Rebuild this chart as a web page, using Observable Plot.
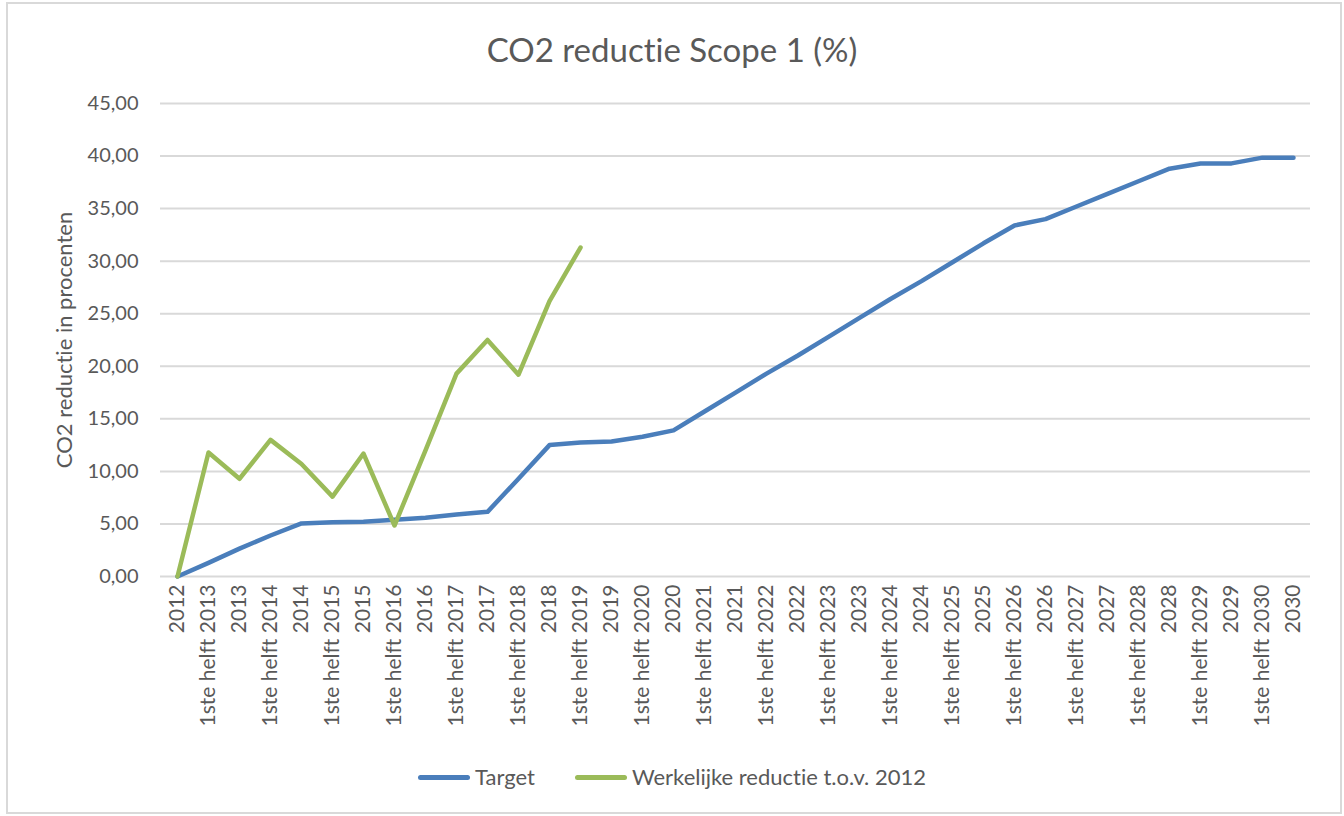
<!DOCTYPE html>
<html>
<head>
<meta charset="utf-8">
<script src="https://cdn.jsdelivr.net/npm/d3@7"></script>
<script src="https://cdn.jsdelivr.net/npm/@observablehq/plot@0.6"></script>
<style>
  html, body { margin: 0; padding: 0; background: #fff; }
  body { width: 1344px; height: 816px; position: relative; overflow: hidden; font-family: Lato, "Open Sans", sans-serif; color: #595959; }
  body, body *, svg text { font-variant-ligatures: none !important; font-feature-settings: "liga" 0, "clig" 0, "dlig" 0, "calt" 0 !important; text-rendering: optimizeSpeed; }
  #frame { position: absolute; left: 6px; top: 2px; width: 1332px; height: 808px; border: 2px solid #d9d9d9; box-sizing: content-box; }
  #title { position: absolute; left: 0; top: 29px; width: 1344px; text-align: center; font-size: 33px; line-height: 40px; color: #595959; }
  #chart { position: absolute; left: 0; top: 90px; }
  #legend { position: absolute; left: 0; top: 763px; width: 1344px; display: flex; justify-content: center; font-size: 22px; line-height: 28px; color: #595959; }
  .item { display: flex; align-items: center; margin: 0 20px; }
  .swatch { width: 52px; height: 5px; border-radius: 3px; margin-right: 5px; }
</style>
</head>
<body>
<div id="frame"></div>
<div id="title">CO2 reductie Scope 1 (%)</div>
<div id="chart"></div>
<div id="legend"></div>
<script>
const categories = [
  "2012",
  "1ste helft 2013", "2013",
  "1ste helft 2014", "2014",
  "1ste helft 2015", "2015",
  "1ste helft 2016", "2016",
  "1ste helft 2017", "2017",
  "1ste helft 2018", "2018",
  "1ste helft 2019", "2019",
  "1ste helft 2020", "2020",
  "1ste helft 2021", "2021",
  "1ste helft 2022", "2022",
  "1ste helft 2023", "2023",
  "1ste helft 2024", "2024",
  "1ste helft 2025", "2025",
  "1ste helft 2026", "2026",
  "1ste helft 2027", "2027",
  "1ste helft 2028", "2028",
  "1ste helft 2029", "2029",
  "1ste helft 2030", "2030"
];
const targetValues = [
  0.0,
  1.3, 2.65,
  3.9, 5.05,
  5.15, 5.2,
  5.4, 5.6,
  5.9, 6.15,
  9.3, 12.5,
  12.75, 12.85,
  13.3, 13.9,
  15.7, 17.5,
  19.3, 21.0,
  22.8, 24.6,
  26.4, 28.1,
  29.9, 31.7,
  33.4, 34.0,
  35.2, 36.4,
  37.6, 38.8,
  39.3, 39.3,
  39.85, 39.85
];
const actualValues = [
  0.0,
  11.8, 9.3,
  13.0, 10.7,
  7.6, 11.7,
  4.85, 12.0,
  19.3, 22.5,
  19.2, 26.2,
  31.3
];
const seriesNames = ["Target", "Werkelijke reductie t.o.v. 2012"];
const seriesColors = ["#4a7ebb", "#9bbb59"];
const yTicks = [0, 5, 10, 15, 20, 25, 30, 35, 40, 45];

const target = categories.map((c, i) => ({cat: c, value: targetValues[i], series: seriesNames[0]}));
const actual = actualValues.map((v, i) => ({cat: categories[i], value: v, series: seriesNames[1]}));

const fmt = v => v.toFixed(2).replace(".", ",");

const plot = Plot.plot({
  width: 1344,
  height: 655,
  marginLeft: 160,
  marginRight: 34,
  marginTop: 13,
  marginBottom: 169,
  style: {fontFamily: "Lato, 'Open Sans', sans-serif", color: "#595959", background: "transparent"},
  x: {type: "point", domain: categories, padding: 0.5},
  y: {domain: [0, 45]},
  color: {domain: seriesNames, range: seriesColors},
  marks: [
    Plot.gridY(yTicks, {stroke: "#d9d9d9", strokeOpacity: 1, strokeWidth: 2}),
    Plot.axisY(yTicks, {tickSize: 0, tickPadding: 22, tickFormat: fmt, fontSize: 20, fill: "#595959",
      label: "CO2 reductie in procenten", labelAnchor: "center", labelArrow: "none", labelOffset: 104}),
    Plot.axisX({tickSize: 0, tickPadding: 8, tickRotate: -90, fontSize: 21, fill: "#595959", label: null}),
    Plot.line(target, {x: "cat", y: "value", stroke: "series", strokeWidth: 4.5, strokeLinejoin: "round", strokeLinecap: "round"}),
    Plot.line(actual, {x: "cat", y: "value", stroke: "series", strokeWidth: 4.5, strokeLinejoin: "round", strokeLinecap: "round"})
  ]
});
document.getElementById("chart").appendChild(plot);

// style y-axis label font
plot.querySelectorAll("text").forEach(t => {
  if (t.textContent === "CO2 reductie in procenten") { t.setAttribute("font-size", "22"); t.setAttribute("fill", "#595959"); }
});

const legend = document.getElementById("legend");
seriesNames.forEach((name, i) => {
  const item = document.createElement("div");
  item.className = "item";
  const sw = document.createElement("div");
  sw.className = "swatch";
  sw.style.background = seriesColors[i];
  const tx = document.createElement("span");
  tx.textContent = name;
  item.appendChild(sw); item.appendChild(tx);
  legend.appendChild(item);
});
</script>
</body>
</html>
